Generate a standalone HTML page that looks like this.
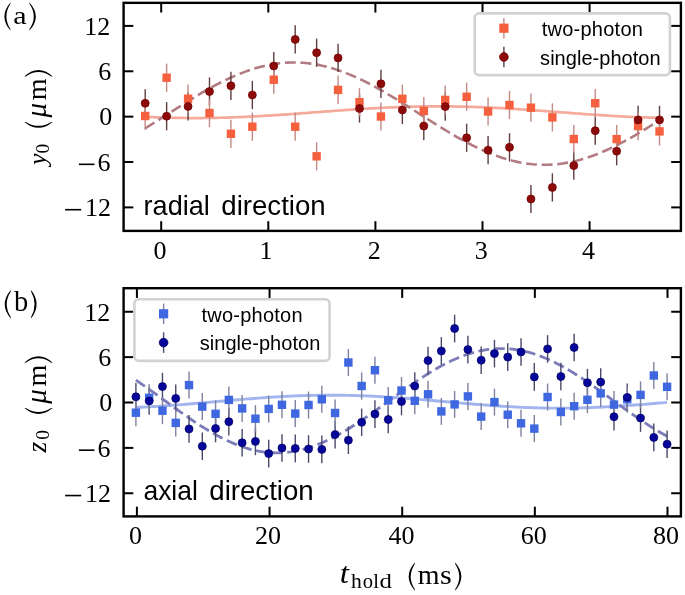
<!DOCTYPE html>
<html><head><meta charset="utf-8"><style>
html,body{margin:0;padding:0;background:#fff;width:685px;height:595px;overflow:hidden}
svg{display:block;will-change:transform}
.tl{font-family:"Liberation Serif",serif;font-size:26px;fill:#000}
.al{font-family:"Liberation Serif",serif;font-size:28px;fill:#000}

.sf{font-family:"Liberation Serif",serif;fill:#000}
.pl{font-family:"Liberation Serif",serif;font-size:29px;fill:#000}
.lg{font-family:"Liberation Sans",sans-serif;font-size:20px;fill:#000}
.ann{font-family:"Liberation Sans",sans-serif;font-size:27.1px;fill:#000}
</style></head><body>
<svg width="685" height="595" viewBox="0 0 685 595">
<rect width="685" height="595" fill="#fff"/>
<path d="M145.20,116.88 L147.78,117.00 L150.37,117.11 L152.95,117.21 L155.54,117.31 L158.12,117.40 L160.71,117.49 L163.29,117.57 L165.88,117.64 L168.46,117.71 L171.05,117.77 L173.63,117.83 L176.21,117.88 L178.80,117.92 L181.38,117.96 L183.97,117.99 L186.55,118.02 L189.14,118.03 L191.72,118.04 L194.31,118.05 L196.89,118.05 L199.47,118.04 L202.06,118.03 L204.64,118.00 L207.23,117.98 L209.81,117.94 L212.40,117.90 L214.98,117.85 L217.57,117.80 L220.15,117.74 L222.74,117.68 L225.32,117.60 L227.90,117.53 L230.49,117.44 L233.07,117.35 L235.66,117.26 L238.24,117.16 L240.83,117.05 L243.41,116.94 L246.00,116.82 L248.58,116.70 L251.17,116.57 L253.75,116.44 L256.33,116.30 L258.92,116.16 L261.50,116.01 L264.09,115.86 L266.67,115.71 L269.26,115.55 L271.84,115.39 L274.43,115.22 L277.01,115.05 L279.60,114.88 L282.18,114.71 L284.76,114.53 L287.35,114.35 L289.93,114.17 L292.52,113.98 L295.10,113.79 L297.69,113.60 L300.27,113.41 L302.86,113.22 L305.44,113.03 L308.02,112.83 L310.61,112.64 L313.19,112.44 L315.78,112.25 L318.36,112.05 L320.95,111.86 L323.53,111.66 L326.12,111.47 L328.70,111.28 L331.29,111.08 L333.87,110.89 L336.45,110.70 L339.04,110.51 L341.62,110.33 L344.21,110.14 L346.79,109.96 L349.38,109.78 L351.96,109.60 L354.55,109.43 L357.13,109.26 L359.72,109.09 L362.30,108.93 L364.88,108.77 L367.47,108.61 L370.05,108.46 L372.64,108.31 L375.22,108.17 L377.81,108.03 L380.39,107.89 L382.98,107.76 L385.56,107.64 L388.15,107.52 L390.73,107.40 L393.31,107.29 L395.90,107.19 L398.48,107.09 L401.07,107.00 L403.65,106.91 L406.24,106.83 L408.82,106.75 L411.41,106.68 L413.99,106.62 L416.57,106.56 L419.16,106.51 L421.74,106.47 L424.33,106.43 L426.91,106.40 L429.50,106.37 L432.08,106.36 L434.67,106.34 L437.25,106.34 L439.84,106.34 L442.42,106.35 L445.00,106.36 L447.59,106.38 L450.17,106.41 L452.76,106.44 L455.34,106.48 L457.93,106.53 L460.51,106.58 L463.10,106.64 L465.68,106.71 L468.27,106.78 L470.85,106.86 L473.43,106.94 L476.02,107.03 L478.60,107.12 L481.19,107.22 L483.77,107.33 L486.36,107.44 L488.94,107.56 L491.53,107.68 L494.11,107.81 L496.70,107.94 L499.28,108.08 L501.86,108.22 L504.45,108.36 L507.03,108.51 L509.62,108.67 L512.20,108.82 L514.79,108.99 L517.37,109.15 L519.96,109.32 L522.54,109.49 L525.12,109.67 L527.71,109.84 L530.29,110.03 L532.88,110.21 L535.46,110.39 L538.05,110.58 L540.63,110.77 L543.22,110.96 L545.80,111.15 L548.39,111.34 L550.97,111.54 L553.55,111.73 L556.14,111.93 L558.72,112.12 L561.31,112.32 L563.89,112.51 L566.48,112.71 L569.06,112.90 L571.65,113.10 L574.23,113.29 L576.82,113.48 L579.40,113.67 L581.98,113.86 L584.57,114.05 L587.15,114.23 L589.74,114.41 L592.32,114.59 L594.91,114.77 L597.49,114.94 L600.08,115.11 L602.66,115.28 L605.25,115.45 L607.83,115.61 L610.41,115.76 L613.00,115.92 L615.58,116.07 L618.17,116.21 L620.75,116.35 L623.34,116.49 L625.92,116.62 L628.51,116.74 L631.09,116.86 L633.67,116.98 L636.26,117.09 L638.84,117.19 L641.43,117.29 L644.01,117.39 L646.60,117.47 L649.18,117.55 L651.77,117.63 L654.35,117.70 L656.94,117.76 L659.52,117.82" fill="none" stroke="#f5aa9c" stroke-width="2.7"/>
<path d="M145.20,128.34 L147.78,126.75 L150.37,125.14 L152.95,123.52 L155.54,121.89 L158.12,120.25 L160.71,118.60 L163.29,116.95 L165.88,115.30 L168.46,113.64 L171.05,111.98 L173.63,110.33 L176.21,108.68 L178.80,107.03 L181.38,105.39 L183.97,103.76 L186.55,102.14 L189.14,100.53 L191.72,98.94 L194.31,97.36 L196.89,95.80 L199.47,94.25 L202.06,92.73 L204.64,91.23 L207.23,89.75 L209.81,88.30 L212.40,86.87 L214.98,85.48 L217.57,84.11 L220.15,82.77 L222.74,81.47 L225.32,80.19 L227.90,78.96 L230.49,77.76 L233.07,76.60 L235.66,75.47 L238.24,74.39 L240.83,73.35 L243.41,72.35 L246.00,71.39 L248.58,70.48 L251.17,69.61 L253.75,68.79 L256.33,68.02 L258.92,67.29 L261.50,66.62 L264.09,65.99 L266.67,65.41 L269.26,64.88 L271.84,64.41 L274.43,63.98 L277.01,63.61 L279.60,63.29 L282.18,63.03 L284.76,62.81 L287.35,62.65 L289.93,62.54 L292.52,62.49 L295.10,62.49 L297.69,62.54 L300.27,62.65 L302.86,62.81 L305.44,63.03 L308.02,63.29 L310.61,63.61 L313.19,63.99 L315.78,64.41 L318.36,64.89 L320.95,65.41 L323.53,65.99 L326.12,66.62 L328.70,67.30 L331.29,68.02 L333.87,68.80 L336.45,69.62 L339.04,70.48 L341.62,71.40 L344.21,72.35 L346.79,73.35 L349.38,74.40 L351.96,75.48 L354.55,76.60 L357.13,77.76 L359.72,78.96 L362.30,80.20 L364.88,81.47 L367.47,82.78 L370.05,84.11 L372.64,85.48 L375.22,86.88 L377.81,88.31 L380.39,89.76 L382.98,91.24 L385.56,92.74 L388.15,94.26 L390.73,95.80 L393.31,97.36 L395.90,98.94 L398.48,100.54 L401.07,102.15 L403.65,103.77 L406.24,105.40 L408.82,107.04 L411.41,108.68 L413.99,110.33 L416.57,111.99 L419.16,113.65 L421.74,115.30 L424.33,116.96 L426.91,118.61 L429.50,120.26 L432.08,121.89 L434.67,123.53 L437.25,125.15 L439.84,126.75 L442.42,128.35 L445.00,129.93 L447.59,131.49 L450.17,133.03 L452.76,134.56 L455.34,136.06 L457.93,137.53 L460.51,138.99 L463.10,140.41 L465.68,141.81 L468.27,143.18 L470.85,144.52 L473.43,145.82 L476.02,147.09 L478.60,148.33 L481.19,149.53 L483.77,150.69 L486.36,151.81 L488.94,152.90 L491.53,153.94 L494.11,154.94 L496.70,155.90 L499.28,156.81 L501.86,157.67 L504.45,158.50 L507.03,159.27 L509.62,160.00 L512.20,160.67 L514.79,161.30 L517.37,161.88 L519.96,162.41 L522.54,162.88 L525.12,163.31 L527.71,163.68 L530.29,164.00 L532.88,164.27 L535.46,164.48 L538.05,164.64 L540.63,164.75 L543.22,164.80 L545.80,164.80 L548.39,164.75 L550.97,164.64 L553.55,164.48 L556.14,164.27 L558.72,164.00 L561.31,163.68 L563.89,163.31 L566.48,162.88 L569.06,162.41 L571.65,161.88 L574.23,161.30 L576.82,160.68 L579.40,160.00 L581.98,159.27 L584.57,158.50 L587.15,157.68 L589.74,156.81 L592.32,155.90 L594.91,154.94 L597.49,153.95 L600.08,152.90 L602.66,151.82 L605.25,150.70 L607.83,149.54 L610.41,148.34 L613.00,147.10 L615.58,145.83 L618.17,144.52 L620.75,143.19 L623.34,141.82 L625.92,140.42 L628.51,139.00 L631.09,137.54 L633.67,136.07 L636.26,134.56 L638.84,133.04 L641.43,131.50 L644.01,129.94 L646.60,128.36 L649.18,126.76 L651.77,125.16 L654.35,123.54 L656.94,121.90 L659.52,120.27" fill="none" stroke="#b27c82" stroke-width="2.6" stroke-dasharray="10.9 4.7"/>
<line x1="145.20" y1="89.20" x2="145.20" y2="117.40" stroke="#5e3e3e" stroke-width="1.4"/>
<line x1="166.63" y1="102.10" x2="166.63" y2="130.30" stroke="#5e3e3e" stroke-width="1.4"/>
<line x1="188.06" y1="92.30" x2="188.06" y2="120.50" stroke="#5e3e3e" stroke-width="1.4"/>
<line x1="209.49" y1="77.40" x2="209.49" y2="105.60" stroke="#5e3e3e" stroke-width="1.4"/>
<line x1="230.92" y1="71.70" x2="230.92" y2="99.90" stroke="#5e3e3e" stroke-width="1.4"/>
<line x1="252.35" y1="80.90" x2="252.35" y2="109.10" stroke="#5e3e3e" stroke-width="1.4"/>
<line x1="273.78" y1="51.90" x2="273.78" y2="80.10" stroke="#5e3e3e" stroke-width="1.4"/>
<line x1="295.21" y1="25.30" x2="295.21" y2="53.50" stroke="#5e3e3e" stroke-width="1.4"/>
<line x1="316.64" y1="38.60" x2="316.64" y2="66.80" stroke="#5e3e3e" stroke-width="1.4"/>
<line x1="338.07" y1="43.80" x2="338.07" y2="72.00" stroke="#5e3e3e" stroke-width="1.4"/>
<line x1="359.50" y1="94.40" x2="359.50" y2="122.60" stroke="#5e3e3e" stroke-width="1.4"/>
<line x1="380.93" y1="69.70" x2="380.93" y2="97.90" stroke="#5e3e3e" stroke-width="1.4"/>
<line x1="402.36" y1="95.90" x2="402.36" y2="124.10" stroke="#5e3e3e" stroke-width="1.4"/>
<line x1="423.79" y1="112.00" x2="423.79" y2="140.20" stroke="#5e3e3e" stroke-width="1.4"/>
<line x1="445.22" y1="92.50" x2="445.22" y2="120.70" stroke="#5e3e3e" stroke-width="1.4"/>
<line x1="466.65" y1="123.70" x2="466.65" y2="151.90" stroke="#5e3e3e" stroke-width="1.4"/>
<line x1="488.08" y1="136.10" x2="488.08" y2="164.30" stroke="#5e3e3e" stroke-width="1.4"/>
<line x1="509.51" y1="133.20" x2="509.51" y2="161.40" stroke="#5e3e3e" stroke-width="1.4"/>
<line x1="530.94" y1="184.90" x2="530.94" y2="213.10" stroke="#5e3e3e" stroke-width="1.4"/>
<line x1="552.37" y1="173.30" x2="552.37" y2="201.50" stroke="#5e3e3e" stroke-width="1.4"/>
<line x1="573.80" y1="151.50" x2="573.80" y2="179.70" stroke="#5e3e3e" stroke-width="1.4"/>
<line x1="595.23" y1="116.60" x2="595.23" y2="144.80" stroke="#5e3e3e" stroke-width="1.4"/>
<line x1="616.66" y1="137.10" x2="616.66" y2="165.30" stroke="#5e3e3e" stroke-width="1.4"/>
<line x1="638.09" y1="105.80" x2="638.09" y2="134.00" stroke="#5e3e3e" stroke-width="1.4"/>
<line x1="659.52" y1="105.80" x2="659.52" y2="134.00" stroke="#5e3e3e" stroke-width="1.4"/>
<line x1="145.20" y1="101.90" x2="145.20" y2="130.10" stroke="#c48a84" stroke-width="1.4"/>
<line x1="166.63" y1="63.60" x2="166.63" y2="91.80" stroke="#c48a84" stroke-width="1.4"/>
<line x1="188.06" y1="84.60" x2="188.06" y2="112.80" stroke="#c48a84" stroke-width="1.4"/>
<line x1="209.49" y1="98.90" x2="209.49" y2="127.10" stroke="#c48a84" stroke-width="1.4"/>
<line x1="230.92" y1="119.70" x2="230.92" y2="147.90" stroke="#c48a84" stroke-width="1.4"/>
<line x1="252.35" y1="112.60" x2="252.35" y2="140.80" stroke="#c48a84" stroke-width="1.4"/>
<line x1="273.78" y1="65.60" x2="273.78" y2="93.80" stroke="#c48a84" stroke-width="1.4"/>
<line x1="295.21" y1="112.60" x2="295.21" y2="140.80" stroke="#c48a84" stroke-width="1.4"/>
<line x1="316.64" y1="142.20" x2="316.64" y2="170.40" stroke="#c48a84" stroke-width="1.4"/>
<line x1="338.07" y1="75.80" x2="338.07" y2="104.00" stroke="#c48a84" stroke-width="1.4"/>
<line x1="359.50" y1="88.10" x2="359.50" y2="116.30" stroke="#c48a84" stroke-width="1.4"/>
<line x1="380.93" y1="102.40" x2="380.93" y2="130.60" stroke="#c48a84" stroke-width="1.4"/>
<line x1="402.36" y1="84.70" x2="402.36" y2="112.90" stroke="#c48a84" stroke-width="1.4"/>
<line x1="423.79" y1="96.90" x2="423.79" y2="125.10" stroke="#c48a84" stroke-width="1.4"/>
<line x1="445.22" y1="85.80" x2="445.22" y2="114.00" stroke="#c48a84" stroke-width="1.4"/>
<line x1="466.65" y1="82.70" x2="466.65" y2="110.90" stroke="#c48a84" stroke-width="1.4"/>
<line x1="488.08" y1="97.40" x2="488.08" y2="125.60" stroke="#c48a84" stroke-width="1.4"/>
<line x1="509.51" y1="90.90" x2="509.51" y2="119.10" stroke="#c48a84" stroke-width="1.4"/>
<line x1="530.94" y1="93.60" x2="530.94" y2="121.80" stroke="#c48a84" stroke-width="1.4"/>
<line x1="552.37" y1="103.30" x2="552.37" y2="131.50" stroke="#c48a84" stroke-width="1.4"/>
<line x1="573.80" y1="124.90" x2="573.80" y2="153.10" stroke="#c48a84" stroke-width="1.4"/>
<line x1="595.23" y1="89.10" x2="595.23" y2="117.30" stroke="#c48a84" stroke-width="1.4"/>
<line x1="616.66" y1="125.00" x2="616.66" y2="153.20" stroke="#c48a84" stroke-width="1.4"/>
<line x1="638.09" y1="112.00" x2="638.09" y2="140.20" stroke="#c48a84" stroke-width="1.4"/>
<line x1="659.52" y1="117.30" x2="659.52" y2="145.50" stroke="#c48a84" stroke-width="1.4"/>
<rect x="141.00" y="111.80" width="8.4" height="8.4" fill="#f5603e"/>
<rect x="162.43" y="73.50" width="8.4" height="8.4" fill="#f5603e"/>
<rect x="183.86" y="94.50" width="8.4" height="8.4" fill="#f5603e"/>
<rect x="205.29" y="108.80" width="8.4" height="8.4" fill="#f5603e"/>
<rect x="226.72" y="129.60" width="8.4" height="8.4" fill="#f5603e"/>
<rect x="248.15" y="122.50" width="8.4" height="8.4" fill="#f5603e"/>
<rect x="269.58" y="75.50" width="8.4" height="8.4" fill="#f5603e"/>
<rect x="291.01" y="122.50" width="8.4" height="8.4" fill="#f5603e"/>
<rect x="312.44" y="152.10" width="8.4" height="8.4" fill="#f5603e"/>
<rect x="333.87" y="85.70" width="8.4" height="8.4" fill="#f5603e"/>
<rect x="355.30" y="98.00" width="8.4" height="8.4" fill="#f5603e"/>
<rect x="376.73" y="112.30" width="8.4" height="8.4" fill="#f5603e"/>
<rect x="398.16" y="94.60" width="8.4" height="8.4" fill="#f5603e"/>
<rect x="419.59" y="106.80" width="8.4" height="8.4" fill="#f5603e"/>
<rect x="441.02" y="95.70" width="8.4" height="8.4" fill="#f5603e"/>
<rect x="462.45" y="92.60" width="8.4" height="8.4" fill="#f5603e"/>
<rect x="483.88" y="107.30" width="8.4" height="8.4" fill="#f5603e"/>
<rect x="505.31" y="100.80" width="8.4" height="8.4" fill="#f5603e"/>
<rect x="526.74" y="103.50" width="8.4" height="8.4" fill="#f5603e"/>
<rect x="548.17" y="113.20" width="8.4" height="8.4" fill="#f5603e"/>
<rect x="569.60" y="134.80" width="8.4" height="8.4" fill="#f5603e"/>
<rect x="591.03" y="99.00" width="8.4" height="8.4" fill="#f5603e"/>
<rect x="612.46" y="134.90" width="8.4" height="8.4" fill="#f5603e"/>
<rect x="633.89" y="121.90" width="8.4" height="8.4" fill="#f5603e"/>
<rect x="655.32" y="127.20" width="8.4" height="8.4" fill="#f5603e"/>
<circle cx="145.20" cy="103.30" r="4.0" fill="#8c0a0a" stroke="#700000" stroke-width="0.7"/>
<circle cx="166.63" cy="116.20" r="4.0" fill="#8c0a0a" stroke="#700000" stroke-width="0.7"/>
<circle cx="188.06" cy="106.40" r="4.0" fill="#8c0a0a" stroke="#700000" stroke-width="0.7"/>
<circle cx="209.49" cy="91.50" r="4.0" fill="#8c0a0a" stroke="#700000" stroke-width="0.7"/>
<circle cx="230.92" cy="85.80" r="4.0" fill="#8c0a0a" stroke="#700000" stroke-width="0.7"/>
<circle cx="252.35" cy="95.00" r="4.0" fill="#8c0a0a" stroke="#700000" stroke-width="0.7"/>
<circle cx="273.78" cy="66.00" r="4.0" fill="#8c0a0a" stroke="#700000" stroke-width="0.7"/>
<circle cx="295.21" cy="39.40" r="4.0" fill="#8c0a0a" stroke="#700000" stroke-width="0.7"/>
<circle cx="316.64" cy="52.70" r="4.0" fill="#8c0a0a" stroke="#700000" stroke-width="0.7"/>
<circle cx="338.07" cy="57.90" r="4.0" fill="#8c0a0a" stroke="#700000" stroke-width="0.7"/>
<circle cx="359.50" cy="108.50" r="4.0" fill="#8c0a0a" stroke="#700000" stroke-width="0.7"/>
<circle cx="380.93" cy="83.80" r="4.0" fill="#8c0a0a" stroke="#700000" stroke-width="0.7"/>
<circle cx="402.36" cy="110.00" r="4.0" fill="#8c0a0a" stroke="#700000" stroke-width="0.7"/>
<circle cx="423.79" cy="126.10" r="4.0" fill="#8c0a0a" stroke="#700000" stroke-width="0.7"/>
<circle cx="445.22" cy="106.60" r="4.0" fill="#8c0a0a" stroke="#700000" stroke-width="0.7"/>
<circle cx="466.65" cy="137.80" r="4.0" fill="#8c0a0a" stroke="#700000" stroke-width="0.7"/>
<circle cx="488.08" cy="150.20" r="4.0" fill="#8c0a0a" stroke="#700000" stroke-width="0.7"/>
<circle cx="509.51" cy="147.30" r="4.0" fill="#8c0a0a" stroke="#700000" stroke-width="0.7"/>
<circle cx="530.94" cy="199.00" r="4.0" fill="#8c0a0a" stroke="#700000" stroke-width="0.7"/>
<circle cx="552.37" cy="187.40" r="4.0" fill="#8c0a0a" stroke="#700000" stroke-width="0.7"/>
<circle cx="573.80" cy="165.60" r="4.0" fill="#8c0a0a" stroke="#700000" stroke-width="0.7"/>
<circle cx="595.23" cy="130.70" r="4.0" fill="#8c0a0a" stroke="#700000" stroke-width="0.7"/>
<circle cx="616.66" cy="151.20" r="4.0" fill="#8c0a0a" stroke="#700000" stroke-width="0.7"/>
<circle cx="638.09" cy="119.90" r="4.0" fill="#8c0a0a" stroke="#700000" stroke-width="0.7"/>
<circle cx="659.52" cy="119.90" r="4.0" fill="#8c0a0a" stroke="#700000" stroke-width="0.7"/>
<line x1="161.20" y1="230.90" x2="161.20" y2="221.20" stroke="#000" stroke-width="2.0"/>
<line x1="161.20" y1="2.85" x2="161.20" y2="12.55" stroke="#000" stroke-width="2.0"/>
<line x1="268.30" y1="230.90" x2="268.30" y2="221.20" stroke="#000" stroke-width="2.0"/>
<line x1="268.30" y1="2.85" x2="268.30" y2="12.55" stroke="#000" stroke-width="2.0"/>
<line x1="375.40" y1="230.90" x2="375.40" y2="221.20" stroke="#000" stroke-width="2.0"/>
<line x1="375.40" y1="2.85" x2="375.40" y2="12.55" stroke="#000" stroke-width="2.0"/>
<line x1="482.50" y1="230.90" x2="482.50" y2="221.20" stroke="#000" stroke-width="2.0"/>
<line x1="482.50" y1="2.85" x2="482.50" y2="12.55" stroke="#000" stroke-width="2.0"/>
<line x1="589.60" y1="230.90" x2="589.60" y2="221.20" stroke="#000" stroke-width="2.0"/>
<line x1="589.60" y1="2.85" x2="589.60" y2="12.55" stroke="#000" stroke-width="2.0"/>
<line x1="123.60" y1="25.90" x2="133.30" y2="25.90" stroke="#000" stroke-width="2.0"/>
<line x1="680.90" y1="25.90" x2="671.20" y2="25.90" stroke="#000" stroke-width="2.0"/>
<line x1="123.60" y1="71.28" x2="133.30" y2="71.28" stroke="#000" stroke-width="2.0"/>
<line x1="680.90" y1="71.28" x2="671.20" y2="71.28" stroke="#000" stroke-width="2.0"/>
<line x1="123.60" y1="116.65" x2="133.30" y2="116.65" stroke="#000" stroke-width="2.0"/>
<line x1="680.90" y1="116.65" x2="671.20" y2="116.65" stroke="#000" stroke-width="2.0"/>
<line x1="123.60" y1="162.03" x2="133.30" y2="162.03" stroke="#000" stroke-width="2.0"/>
<line x1="680.90" y1="162.03" x2="671.20" y2="162.03" stroke="#000" stroke-width="2.0"/>
<line x1="123.60" y1="207.40" x2="133.30" y2="207.40" stroke="#000" stroke-width="2.0"/>
<line x1="680.90" y1="207.40" x2="671.20" y2="207.40" stroke="#000" stroke-width="2.0"/>
<rect x="123.60" y="2.85" width="557.30" height="228.05" fill="none" stroke="#000" stroke-width="2.4"/>
<text x="160.00" y="258.50" class="tl" text-anchor="middle">0</text>
<text x="265.90" y="258.50" class="tl" text-anchor="middle">1</text>
<text x="374.35" y="258.50" class="tl" text-anchor="middle">2</text>
<text x="481.25" y="258.50" class="tl" text-anchor="middle">3</text>
<text x="588.50" y="258.50" class="tl" text-anchor="middle">4</text>
<text x="110.30" y="34.70" class="tl" text-anchor="end">12</text>
<text x="111.30" y="80.08" class="tl" text-anchor="end">6</text>
<text x="112.20" y="125.45" class="tl" text-anchor="end">0</text>
<text x="110.60" y="170.83" class="tl" text-anchor="end">6</text>
<rect x="78.90" y="163.53" width="15.60" height="1.6" fill="#000"/>
<text x="110.90" y="216.20" class="tl" text-anchor="end">12</text>
<rect x="65.10" y="208.90" width="16.10" height="1.6" fill="#000"/>
<rect x="474.70" y="13.40" width="195.2" height="61.7" rx="4.5" fill="#fff" stroke="#d2d2d2" stroke-width="2.6"/>
<line x1="503.9" y1="17.90" x2="503.9" y2="38.50" stroke="#c48a84" stroke-width="1.4"/>
<rect x="499.30" y="23.60" width="9.2" height="9.2" fill="#f5603e"/>
<line x1="503.9" y1="46.70" x2="503.9" y2="67.30" stroke="#5e3e3e" stroke-width="1.4"/>
<circle cx="503.9" cy="57.00" r="4.4" fill="#8c0a0a" stroke="#700000" stroke-width="0.7"/>
<text x="541.70" y="36.10" class="lg" textLength="101.2" lengthAdjust="spacing">two-photon</text>
<text x="540.10" y="64.80" class="lg" textLength="120.5" lengthAdjust="spacing">single-photon</text>
<text x="143.6" y="214.6" class="ann" textLength="66.2" lengthAdjust="spacingAndGlyphs">radial</text>
<text x="221.3" y="214.6" class="ann" textLength="104.4" lengthAdjust="spacingAndGlyphs">direction</text>
<path d="M135.90,407.43 L138.57,407.32 L141.24,407.20 L143.91,407.07 L146.58,406.94 L149.25,406.80 L151.92,406.65 L154.59,406.49 L157.25,406.33 L159.92,406.17 L162.59,405.99 L165.26,405.81 L167.93,405.63 L170.60,405.44 L173.27,405.24 L175.94,405.04 L178.61,404.84 L181.28,404.63 L183.95,404.42 L186.62,404.20 L189.29,403.98 L191.96,403.76 L194.63,403.53 L197.29,403.31 L199.96,403.07 L202.63,402.84 L205.30,402.61 L207.97,402.37 L210.64,402.14 L213.31,401.90 L215.98,401.67 L218.65,401.43 L221.32,401.19 L223.99,400.96 L226.66,400.72 L229.33,400.49 L232.00,400.26 L234.67,400.03 L237.34,399.80 L240.00,399.57 L242.67,399.35 L245.34,399.13 L248.01,398.92 L250.68,398.70 L253.35,398.49 L256.02,398.29 L258.69,398.09 L261.36,397.90 L264.03,397.71 L266.70,397.52 L269.37,397.34 L272.04,397.17 L274.71,397.00 L277.38,396.84 L280.04,396.69 L282.71,396.54 L285.38,396.40 L288.05,396.26 L290.72,396.14 L293.39,396.02 L296.06,395.91 L298.73,395.80 L301.40,395.71 L304.07,395.62 L306.74,395.54 L309.41,395.47 L312.08,395.40 L314.75,395.35 L317.42,395.30 L320.08,395.26 L322.75,395.23 L325.42,395.21 L328.09,395.20 L330.76,395.20 L333.43,395.20 L336.10,395.21 L338.77,395.24 L341.44,395.27 L344.11,395.31 L346.78,395.35 L349.45,395.41 L352.12,395.48 L354.79,395.55 L357.46,395.63 L360.13,395.72 L362.79,395.82 L365.46,395.92 L368.13,396.03 L370.80,396.15 L373.47,396.28 L376.14,396.42 L378.81,396.56 L381.48,396.71 L384.15,396.86 L386.82,397.02 L389.49,397.19 L392.16,397.37 L394.83,397.54 L397.50,397.73 L400.17,397.92 L402.83,398.12 L405.50,398.32 L408.17,398.52 L410.84,398.73 L413.51,398.94 L416.18,399.16 L418.85,399.38 L421.52,399.60 L424.19,399.83 L426.86,400.06 L429.53,400.29 L432.20,400.52 L434.87,400.75 L437.54,400.99 L440.21,401.22 L442.87,401.46 L445.54,401.70 L448.21,401.93 L450.88,402.17 L453.55,402.40 L456.22,402.64 L458.89,402.87 L461.56,403.10 L464.23,403.33 L466.90,403.56 L469.57,403.79 L472.24,404.01 L474.91,404.23 L477.58,404.44 L480.25,404.66 L482.92,404.86 L485.58,405.07 L488.25,405.27 L490.92,405.46 L493.59,405.65 L496.26,405.84 L498.93,406.01 L501.60,406.19 L504.27,406.35 L506.94,406.51 L509.61,406.67 L512.28,406.82 L514.95,406.96 L517.62,407.09 L520.29,407.22 L522.96,407.34 L525.62,407.45 L528.29,407.55 L530.96,407.65 L533.63,407.73 L536.30,407.81 L538.97,407.88 L541.64,407.95 L544.31,408.00 L546.98,408.05 L549.65,408.09 L552.32,408.12 L554.99,408.14 L557.66,408.15 L560.33,408.15 L563.00,408.15 L565.66,408.13 L568.33,408.11 L571.00,408.08 L573.67,408.04 L576.34,407.99 L579.01,407.93 L581.68,407.87 L584.35,407.80 L587.02,407.71 L589.69,407.62 L592.36,407.53 L595.03,407.42 L597.70,407.31 L600.37,407.19 L603.04,407.06 L605.71,406.92 L608.37,406.78 L611.04,406.63 L613.71,406.48 L616.38,406.32 L619.05,406.15 L621.72,405.97 L624.39,405.79 L627.06,405.61 L629.73,405.42 L632.40,405.22 L635.07,405.02 L637.74,404.82 L640.41,404.61 L643.08,404.39 L645.75,404.18 L648.41,403.96 L651.08,403.73 L653.75,403.51 L656.42,403.28 L659.09,403.05 L661.76,402.82 L664.43,402.58 L667.10,402.35" fill="none" stroke="#a3b5ee" stroke-width="2.9"/>
<path d="M135.90,380.14 L138.57,381.95 L141.24,383.78 L143.91,385.63 L146.58,387.51 L149.25,389.40 L151.92,391.31 L154.59,393.23 L157.25,395.16 L159.92,397.10 L162.59,399.05 L165.26,401.00 L167.93,402.94 L170.60,404.89 L173.27,406.82 L175.94,408.75 L178.61,410.67 L181.28,412.58 L183.95,414.46 L186.62,416.33 L189.29,418.18 L191.96,420.00 L194.63,421.80 L197.29,423.56 L199.96,425.30 L202.63,427.00 L205.30,428.66 L207.97,430.28 L210.64,431.86 L213.31,433.40 L215.98,434.89 L218.65,436.34 L221.32,437.74 L223.99,439.08 L226.66,440.37 L229.33,441.60 L232.00,442.78 L234.67,443.90 L237.34,444.96 L240.00,445.95 L242.67,446.89 L245.34,447.76 L248.01,448.56 L250.68,449.30 L253.35,449.96 L256.02,450.56 L258.69,451.09 L261.36,451.55 L264.03,451.94 L266.70,452.26 L269.37,452.50 L272.04,452.67 L274.71,452.77 L277.38,452.80 L280.04,452.75 L282.71,452.64 L285.38,452.44 L288.05,452.18 L290.72,451.85 L293.39,451.44 L296.06,450.96 L298.73,450.41 L301.40,449.80 L304.07,449.11 L306.74,448.36 L309.41,447.54 L312.08,446.65 L314.75,445.70 L317.42,444.69 L320.08,443.61 L322.75,442.48 L325.42,441.29 L328.09,440.04 L330.76,438.73 L333.43,437.38 L336.10,435.97 L338.77,434.51 L341.44,433.00 L344.11,431.45 L346.78,429.86 L349.45,428.23 L352.12,426.56 L354.79,424.85 L357.46,423.10 L360.13,421.33 L362.79,419.53 L365.46,417.70 L368.13,415.85 L370.80,413.97 L373.47,412.08 L376.14,410.17 L378.81,408.25 L381.48,406.32 L384.15,404.38 L386.82,402.43 L389.49,400.49 L392.16,398.54 L394.83,396.60 L397.50,394.66 L400.17,392.73 L402.83,390.81 L405.50,388.90 L408.17,387.01 L410.84,385.15 L413.51,383.30 L416.18,381.47 L418.85,379.68 L421.52,377.91 L424.19,376.17 L426.86,374.47 L429.53,372.81 L432.20,371.18 L434.87,369.60 L437.54,368.06 L440.21,366.56 L442.87,365.11 L445.54,363.71 L448.21,362.37 L450.88,361.07 L453.55,359.84 L456.22,358.66 L458.89,357.53 L461.56,356.47 L464.23,355.47 L466.90,354.53 L469.57,353.66 L472.24,352.86 L474.91,352.12 L477.58,351.44 L480.25,350.84 L482.92,350.31 L485.58,349.84 L488.25,349.45 L490.92,349.13 L493.59,348.88 L496.26,348.70 L498.93,348.60 L501.60,348.57 L504.27,348.61 L506.94,348.73 L509.61,348.91 L512.28,349.17 L514.95,349.50 L517.62,349.91 L520.29,350.38 L522.96,350.92 L525.62,351.54 L528.29,352.22 L530.96,352.97 L533.63,353.78 L536.30,354.67 L538.97,355.61 L541.64,356.62 L544.31,357.69 L546.98,358.82 L549.65,360.01 L552.32,361.26 L554.99,362.56 L557.66,363.91 L560.33,365.32 L563.00,366.77 L565.66,368.28 L568.33,369.82 L571.00,371.41 L573.67,373.05 L576.34,374.72 L579.01,376.42 L581.68,378.16 L584.35,379.94 L587.02,381.74 L589.69,383.56 L592.36,385.41 L595.03,387.29 L597.70,389.18 L600.37,391.09 L603.04,393.01 L605.71,394.94 L608.37,396.88 L611.04,398.82 L613.71,400.77 L616.38,402.72 L619.05,404.66 L621.72,406.60 L624.39,408.53 L627.06,410.45 L629.73,412.36 L632.40,414.25 L635.07,416.12 L637.74,417.97 L640.41,419.79 L643.08,421.59 L645.75,423.36 L648.41,425.10 L651.08,426.80 L653.75,428.47 L656.42,430.09 L659.09,431.68 L661.76,433.23 L664.43,434.72 L667.10,436.17" fill="none" stroke="#7c7cba" stroke-width="2.8" stroke-dasharray="10.9 4.7"/>
<line x1="135.90" y1="383.00" x2="135.90" y2="410.60" stroke="#4a4a6a" stroke-width="1.4"/>
<line x1="149.18" y1="387.10" x2="149.18" y2="414.70" stroke="#4a4a6a" stroke-width="1.4"/>
<line x1="162.46" y1="372.80" x2="162.46" y2="400.40" stroke="#4a4a6a" stroke-width="1.4"/>
<line x1="175.74" y1="384.60" x2="175.74" y2="412.20" stroke="#4a4a6a" stroke-width="1.4"/>
<line x1="189.02" y1="415.10" x2="189.02" y2="442.70" stroke="#4a4a6a" stroke-width="1.4"/>
<line x1="202.30" y1="432.40" x2="202.30" y2="460.00" stroke="#4a4a6a" stroke-width="1.4"/>
<line x1="215.58" y1="414.70" x2="215.58" y2="442.30" stroke="#4a4a6a" stroke-width="1.4"/>
<line x1="228.86" y1="407.90" x2="228.86" y2="435.50" stroke="#4a4a6a" stroke-width="1.4"/>
<line x1="242.14" y1="429.00" x2="242.14" y2="456.60" stroke="#4a4a6a" stroke-width="1.4"/>
<line x1="255.42" y1="427.60" x2="255.42" y2="455.20" stroke="#4a4a6a" stroke-width="1.4"/>
<line x1="268.70" y1="439.80" x2="268.70" y2="467.40" stroke="#4a4a6a" stroke-width="1.4"/>
<line x1="281.98" y1="434.20" x2="281.98" y2="461.80" stroke="#4a4a6a" stroke-width="1.4"/>
<line x1="295.26" y1="434.60" x2="295.26" y2="462.20" stroke="#4a4a6a" stroke-width="1.4"/>
<line x1="308.54" y1="435.20" x2="308.54" y2="462.80" stroke="#4a4a6a" stroke-width="1.4"/>
<line x1="321.82" y1="435.60" x2="321.82" y2="463.20" stroke="#4a4a6a" stroke-width="1.4"/>
<line x1="335.10" y1="420.80" x2="335.10" y2="448.40" stroke="#4a4a6a" stroke-width="1.4"/>
<line x1="348.38" y1="426.40" x2="348.38" y2="454.00" stroke="#4a4a6a" stroke-width="1.4"/>
<line x1="361.66" y1="408.50" x2="361.66" y2="436.10" stroke="#4a4a6a" stroke-width="1.4"/>
<line x1="374.94" y1="400.30" x2="374.94" y2="427.90" stroke="#4a4a6a" stroke-width="1.4"/>
<line x1="388.22" y1="405.70" x2="388.22" y2="433.30" stroke="#4a4a6a" stroke-width="1.4"/>
<line x1="401.50" y1="387.70" x2="401.50" y2="415.30" stroke="#4a4a6a" stroke-width="1.4"/>
<line x1="414.78" y1="372.30" x2="414.78" y2="399.90" stroke="#4a4a6a" stroke-width="1.4"/>
<line x1="428.06" y1="346.80" x2="428.06" y2="374.40" stroke="#4a4a6a" stroke-width="1.4"/>
<line x1="441.34" y1="337.20" x2="441.34" y2="364.80" stroke="#4a4a6a" stroke-width="1.4"/>
<line x1="454.62" y1="314.70" x2="454.62" y2="342.30" stroke="#4a4a6a" stroke-width="1.4"/>
<line x1="467.90" y1="335.80" x2="467.90" y2="363.40" stroke="#4a4a6a" stroke-width="1.4"/>
<line x1="481.18" y1="346.40" x2="481.18" y2="374.00" stroke="#4a4a6a" stroke-width="1.4"/>
<line x1="494.46" y1="339.80" x2="494.46" y2="367.40" stroke="#4a4a6a" stroke-width="1.4"/>
<line x1="507.74" y1="343.30" x2="507.74" y2="370.90" stroke="#4a4a6a" stroke-width="1.4"/>
<line x1="521.02" y1="338.20" x2="521.02" y2="365.80" stroke="#4a4a6a" stroke-width="1.4"/>
<line x1="534.30" y1="363.10" x2="534.30" y2="390.70" stroke="#4a4a6a" stroke-width="1.4"/>
<line x1="547.58" y1="335.10" x2="547.58" y2="362.70" stroke="#4a4a6a" stroke-width="1.4"/>
<line x1="560.86" y1="362.70" x2="560.86" y2="390.30" stroke="#4a4a6a" stroke-width="1.4"/>
<line x1="574.14" y1="333.70" x2="574.14" y2="361.30" stroke="#4a4a6a" stroke-width="1.4"/>
<line x1="587.42" y1="368.90" x2="587.42" y2="396.50" stroke="#4a4a6a" stroke-width="1.4"/>
<line x1="600.70" y1="368.30" x2="600.70" y2="395.90" stroke="#4a4a6a" stroke-width="1.4"/>
<line x1="613.98" y1="402.90" x2="613.98" y2="430.50" stroke="#4a4a6a" stroke-width="1.4"/>
<line x1="627.26" y1="383.60" x2="627.26" y2="411.20" stroke="#4a4a6a" stroke-width="1.4"/>
<line x1="640.54" y1="404.30" x2="640.54" y2="431.90" stroke="#4a4a6a" stroke-width="1.4"/>
<line x1="653.82" y1="423.60" x2="653.82" y2="451.20" stroke="#4a4a6a" stroke-width="1.4"/>
<line x1="667.10" y1="430.40" x2="667.10" y2="458.00" stroke="#4a4a6a" stroke-width="1.4"/>
<line x1="135.90" y1="399.20" x2="135.90" y2="426.20" stroke="#7e82a0" stroke-width="1.4"/>
<line x1="149.18" y1="384.30" x2="149.18" y2="411.30" stroke="#7e82a0" stroke-width="1.4"/>
<line x1="162.46" y1="397.20" x2="162.46" y2="424.20" stroke="#7e82a0" stroke-width="1.4"/>
<line x1="175.74" y1="409.40" x2="175.74" y2="436.40" stroke="#7e82a0" stroke-width="1.4"/>
<line x1="189.02" y1="371.60" x2="189.02" y2="398.60" stroke="#7e82a0" stroke-width="1.4"/>
<line x1="202.30" y1="393.10" x2="202.30" y2="420.10" stroke="#7e82a0" stroke-width="1.4"/>
<line x1="215.58" y1="400.30" x2="215.58" y2="427.30" stroke="#7e82a0" stroke-width="1.4"/>
<line x1="228.86" y1="386.40" x2="228.86" y2="413.40" stroke="#7e82a0" stroke-width="1.4"/>
<line x1="242.14" y1="394.90" x2="242.14" y2="421.90" stroke="#7e82a0" stroke-width="1.4"/>
<line x1="255.42" y1="405.20" x2="255.42" y2="432.20" stroke="#7e82a0" stroke-width="1.4"/>
<line x1="268.70" y1="395.40" x2="268.70" y2="422.40" stroke="#7e82a0" stroke-width="1.4"/>
<line x1="281.98" y1="391.30" x2="281.98" y2="418.30" stroke="#7e82a0" stroke-width="1.4"/>
<line x1="295.26" y1="400.10" x2="295.26" y2="427.10" stroke="#7e82a0" stroke-width="1.4"/>
<line x1="308.54" y1="391.50" x2="308.54" y2="418.50" stroke="#7e82a0" stroke-width="1.4"/>
<line x1="321.82" y1="385.80" x2="321.82" y2="412.80" stroke="#7e82a0" stroke-width="1.4"/>
<line x1="335.10" y1="399.50" x2="335.10" y2="426.50" stroke="#7e82a0" stroke-width="1.4"/>
<line x1="348.38" y1="349.00" x2="348.38" y2="376.00" stroke="#7e82a0" stroke-width="1.4"/>
<line x1="361.66" y1="372.50" x2="361.66" y2="399.50" stroke="#7e82a0" stroke-width="1.4"/>
<line x1="374.94" y1="356.70" x2="374.94" y2="383.70" stroke="#7e82a0" stroke-width="1.4"/>
<line x1="388.22" y1="386.90" x2="388.22" y2="413.90" stroke="#7e82a0" stroke-width="1.4"/>
<line x1="401.50" y1="377.00" x2="401.50" y2="404.00" stroke="#7e82a0" stroke-width="1.4"/>
<line x1="414.78" y1="387.30" x2="414.78" y2="414.30" stroke="#7e82a0" stroke-width="1.4"/>
<line x1="428.06" y1="380.80" x2="428.06" y2="407.80" stroke="#7e82a0" stroke-width="1.4"/>
<line x1="441.34" y1="397.90" x2="441.34" y2="424.90" stroke="#7e82a0" stroke-width="1.4"/>
<line x1="454.62" y1="390.90" x2="454.62" y2="417.90" stroke="#7e82a0" stroke-width="1.4"/>
<line x1="467.90" y1="382.90" x2="467.90" y2="409.90" stroke="#7e82a0" stroke-width="1.4"/>
<line x1="481.18" y1="403.10" x2="481.18" y2="430.10" stroke="#7e82a0" stroke-width="1.4"/>
<line x1="494.46" y1="388.60" x2="494.46" y2="415.60" stroke="#7e82a0" stroke-width="1.4"/>
<line x1="507.74" y1="401.20" x2="507.74" y2="428.20" stroke="#7e82a0" stroke-width="1.4"/>
<line x1="521.02" y1="409.80" x2="521.02" y2="436.80" stroke="#7e82a0" stroke-width="1.4"/>
<line x1="534.30" y1="415.10" x2="534.30" y2="442.10" stroke="#7e82a0" stroke-width="1.4"/>
<line x1="547.58" y1="383.50" x2="547.58" y2="410.50" stroke="#7e82a0" stroke-width="1.4"/>
<line x1="560.86" y1="398.50" x2="560.86" y2="425.50" stroke="#7e82a0" stroke-width="1.4"/>
<line x1="574.14" y1="392.70" x2="574.14" y2="419.70" stroke="#7e82a0" stroke-width="1.4"/>
<line x1="587.42" y1="386.30" x2="587.42" y2="413.30" stroke="#7e82a0" stroke-width="1.4"/>
<line x1="600.70" y1="379.90" x2="600.70" y2="406.90" stroke="#7e82a0" stroke-width="1.4"/>
<line x1="613.98" y1="391.10" x2="613.98" y2="418.10" stroke="#7e82a0" stroke-width="1.4"/>
<line x1="627.26" y1="385.80" x2="627.26" y2="412.80" stroke="#7e82a0" stroke-width="1.4"/>
<line x1="640.54" y1="381.40" x2="640.54" y2="408.40" stroke="#7e82a0" stroke-width="1.4"/>
<line x1="653.82" y1="362.00" x2="653.82" y2="389.00" stroke="#7e82a0" stroke-width="1.4"/>
<line x1="667.10" y1="373.30" x2="667.10" y2="400.30" stroke="#7e82a0" stroke-width="1.4"/>
<rect x="131.70" y="408.50" width="8.4" height="8.4" fill="#3e67e0"/>
<rect x="144.98" y="393.60" width="8.4" height="8.4" fill="#3e67e0"/>
<rect x="158.26" y="406.50" width="8.4" height="8.4" fill="#3e67e0"/>
<rect x="171.54" y="418.70" width="8.4" height="8.4" fill="#3e67e0"/>
<rect x="184.82" y="380.90" width="8.4" height="8.4" fill="#3e67e0"/>
<rect x="198.10" y="402.40" width="8.4" height="8.4" fill="#3e67e0"/>
<rect x="211.38" y="409.60" width="8.4" height="8.4" fill="#3e67e0"/>
<rect x="224.66" y="395.70" width="8.4" height="8.4" fill="#3e67e0"/>
<rect x="237.94" y="404.20" width="8.4" height="8.4" fill="#3e67e0"/>
<rect x="251.22" y="414.50" width="8.4" height="8.4" fill="#3e67e0"/>
<rect x="264.50" y="404.70" width="8.4" height="8.4" fill="#3e67e0"/>
<rect x="277.78" y="400.60" width="8.4" height="8.4" fill="#3e67e0"/>
<rect x="291.06" y="409.40" width="8.4" height="8.4" fill="#3e67e0"/>
<rect x="304.34" y="400.80" width="8.4" height="8.4" fill="#3e67e0"/>
<rect x="317.62" y="395.10" width="8.4" height="8.4" fill="#3e67e0"/>
<rect x="330.90" y="408.80" width="8.4" height="8.4" fill="#3e67e0"/>
<rect x="344.18" y="358.30" width="8.4" height="8.4" fill="#3e67e0"/>
<rect x="357.46" y="381.80" width="8.4" height="8.4" fill="#3e67e0"/>
<rect x="370.74" y="366.00" width="8.4" height="8.4" fill="#3e67e0"/>
<rect x="384.02" y="396.20" width="8.4" height="8.4" fill="#3e67e0"/>
<rect x="397.30" y="386.30" width="8.4" height="8.4" fill="#3e67e0"/>
<rect x="410.58" y="396.60" width="8.4" height="8.4" fill="#3e67e0"/>
<rect x="423.86" y="390.10" width="8.4" height="8.4" fill="#3e67e0"/>
<rect x="437.14" y="407.20" width="8.4" height="8.4" fill="#3e67e0"/>
<rect x="450.42" y="400.20" width="8.4" height="8.4" fill="#3e67e0"/>
<rect x="463.70" y="392.20" width="8.4" height="8.4" fill="#3e67e0"/>
<rect x="476.98" y="412.40" width="8.4" height="8.4" fill="#3e67e0"/>
<rect x="490.26" y="397.90" width="8.4" height="8.4" fill="#3e67e0"/>
<rect x="503.54" y="410.50" width="8.4" height="8.4" fill="#3e67e0"/>
<rect x="516.82" y="419.10" width="8.4" height="8.4" fill="#3e67e0"/>
<rect x="530.10" y="424.40" width="8.4" height="8.4" fill="#3e67e0"/>
<rect x="543.38" y="392.80" width="8.4" height="8.4" fill="#3e67e0"/>
<rect x="556.66" y="407.80" width="8.4" height="8.4" fill="#3e67e0"/>
<rect x="569.94" y="402.00" width="8.4" height="8.4" fill="#3e67e0"/>
<rect x="583.22" y="395.60" width="8.4" height="8.4" fill="#3e67e0"/>
<rect x="596.50" y="389.20" width="8.4" height="8.4" fill="#3e67e0"/>
<rect x="609.78" y="400.40" width="8.4" height="8.4" fill="#3e67e0"/>
<rect x="623.06" y="395.10" width="8.4" height="8.4" fill="#3e67e0"/>
<rect x="636.34" y="390.70" width="8.4" height="8.4" fill="#3e67e0"/>
<rect x="649.62" y="371.30" width="8.4" height="8.4" fill="#3e67e0"/>
<rect x="662.90" y="382.60" width="8.4" height="8.4" fill="#3e67e0"/>
<circle cx="135.90" cy="396.80" r="4.0" fill="#06069a" stroke="#000060" stroke-width="0.7"/>
<circle cx="149.18" cy="400.90" r="4.0" fill="#06069a" stroke="#000060" stroke-width="0.7"/>
<circle cx="162.46" cy="386.60" r="4.0" fill="#06069a" stroke="#000060" stroke-width="0.7"/>
<circle cx="175.74" cy="398.40" r="4.0" fill="#06069a" stroke="#000060" stroke-width="0.7"/>
<circle cx="189.02" cy="428.90" r="4.0" fill="#06069a" stroke="#000060" stroke-width="0.7"/>
<circle cx="202.30" cy="446.20" r="4.0" fill="#06069a" stroke="#000060" stroke-width="0.7"/>
<circle cx="215.58" cy="428.50" r="4.0" fill="#06069a" stroke="#000060" stroke-width="0.7"/>
<circle cx="228.86" cy="421.70" r="4.0" fill="#06069a" stroke="#000060" stroke-width="0.7"/>
<circle cx="242.14" cy="442.80" r="4.0" fill="#06069a" stroke="#000060" stroke-width="0.7"/>
<circle cx="255.42" cy="441.40" r="4.0" fill="#06069a" stroke="#000060" stroke-width="0.7"/>
<circle cx="268.70" cy="453.60" r="4.0" fill="#06069a" stroke="#000060" stroke-width="0.7"/>
<circle cx="281.98" cy="448.00" r="4.0" fill="#06069a" stroke="#000060" stroke-width="0.7"/>
<circle cx="295.26" cy="448.40" r="4.0" fill="#06069a" stroke="#000060" stroke-width="0.7"/>
<circle cx="308.54" cy="449.00" r="4.0" fill="#06069a" stroke="#000060" stroke-width="0.7"/>
<circle cx="321.82" cy="449.40" r="4.0" fill="#06069a" stroke="#000060" stroke-width="0.7"/>
<circle cx="335.10" cy="434.60" r="4.0" fill="#06069a" stroke="#000060" stroke-width="0.7"/>
<circle cx="348.38" cy="440.20" r="4.0" fill="#06069a" stroke="#000060" stroke-width="0.7"/>
<circle cx="361.66" cy="422.30" r="4.0" fill="#06069a" stroke="#000060" stroke-width="0.7"/>
<circle cx="374.94" cy="414.10" r="4.0" fill="#06069a" stroke="#000060" stroke-width="0.7"/>
<circle cx="388.22" cy="419.50" r="4.0" fill="#06069a" stroke="#000060" stroke-width="0.7"/>
<circle cx="401.50" cy="401.50" r="4.0" fill="#06069a" stroke="#000060" stroke-width="0.7"/>
<circle cx="414.78" cy="386.10" r="4.0" fill="#06069a" stroke="#000060" stroke-width="0.7"/>
<circle cx="428.06" cy="360.60" r="4.0" fill="#06069a" stroke="#000060" stroke-width="0.7"/>
<circle cx="441.34" cy="351.00" r="4.0" fill="#06069a" stroke="#000060" stroke-width="0.7"/>
<circle cx="454.62" cy="328.50" r="4.0" fill="#06069a" stroke="#000060" stroke-width="0.7"/>
<circle cx="467.90" cy="349.60" r="4.0" fill="#06069a" stroke="#000060" stroke-width="0.7"/>
<circle cx="481.18" cy="360.20" r="4.0" fill="#06069a" stroke="#000060" stroke-width="0.7"/>
<circle cx="494.46" cy="353.60" r="4.0" fill="#06069a" stroke="#000060" stroke-width="0.7"/>
<circle cx="507.74" cy="357.10" r="4.0" fill="#06069a" stroke="#000060" stroke-width="0.7"/>
<circle cx="521.02" cy="352.00" r="4.0" fill="#06069a" stroke="#000060" stroke-width="0.7"/>
<circle cx="534.30" cy="376.90" r="4.0" fill="#06069a" stroke="#000060" stroke-width="0.7"/>
<circle cx="547.58" cy="348.90" r="4.0" fill="#06069a" stroke="#000060" stroke-width="0.7"/>
<circle cx="560.86" cy="376.50" r="4.0" fill="#06069a" stroke="#000060" stroke-width="0.7"/>
<circle cx="574.14" cy="347.50" r="4.0" fill="#06069a" stroke="#000060" stroke-width="0.7"/>
<circle cx="587.42" cy="382.70" r="4.0" fill="#06069a" stroke="#000060" stroke-width="0.7"/>
<circle cx="600.70" cy="382.10" r="4.0" fill="#06069a" stroke="#000060" stroke-width="0.7"/>
<circle cx="613.98" cy="416.70" r="4.0" fill="#06069a" stroke="#000060" stroke-width="0.7"/>
<circle cx="627.26" cy="397.40" r="4.0" fill="#06069a" stroke="#000060" stroke-width="0.7"/>
<circle cx="640.54" cy="418.10" r="4.0" fill="#06069a" stroke="#000060" stroke-width="0.7"/>
<circle cx="653.82" cy="437.40" r="4.0" fill="#06069a" stroke="#000060" stroke-width="0.7"/>
<circle cx="667.10" cy="444.20" r="4.0" fill="#06069a" stroke="#000060" stroke-width="0.7"/>
<line x1="136.90" y1="516.40" x2="136.90" y2="506.70" stroke="#000" stroke-width="2.0"/>
<line x1="136.90" y1="288.20" x2="136.90" y2="297.90" stroke="#000" stroke-width="2.0"/>
<line x1="269.55" y1="516.40" x2="269.55" y2="506.70" stroke="#000" stroke-width="2.0"/>
<line x1="269.55" y1="288.20" x2="269.55" y2="297.90" stroke="#000" stroke-width="2.0"/>
<line x1="402.20" y1="516.40" x2="402.20" y2="506.70" stroke="#000" stroke-width="2.0"/>
<line x1="402.20" y1="288.20" x2="402.20" y2="297.90" stroke="#000" stroke-width="2.0"/>
<line x1="534.85" y1="516.40" x2="534.85" y2="506.70" stroke="#000" stroke-width="2.0"/>
<line x1="534.85" y1="288.20" x2="534.85" y2="297.90" stroke="#000" stroke-width="2.0"/>
<line x1="667.50" y1="516.40" x2="667.50" y2="506.70" stroke="#000" stroke-width="2.0"/>
<line x1="667.50" y1="288.20" x2="667.50" y2="297.90" stroke="#000" stroke-width="2.0"/>
<line x1="123.60" y1="311.75" x2="133.30" y2="311.75" stroke="#000" stroke-width="2.0"/>
<line x1="680.90" y1="311.75" x2="671.20" y2="311.75" stroke="#000" stroke-width="2.0"/>
<line x1="123.60" y1="357.12" x2="133.30" y2="357.12" stroke="#000" stroke-width="2.0"/>
<line x1="680.90" y1="357.12" x2="671.20" y2="357.12" stroke="#000" stroke-width="2.0"/>
<line x1="123.60" y1="402.50" x2="133.30" y2="402.50" stroke="#000" stroke-width="2.0"/>
<line x1="680.90" y1="402.50" x2="671.20" y2="402.50" stroke="#000" stroke-width="2.0"/>
<line x1="123.60" y1="447.88" x2="133.30" y2="447.88" stroke="#000" stroke-width="2.0"/>
<line x1="680.90" y1="447.88" x2="671.20" y2="447.88" stroke="#000" stroke-width="2.0"/>
<line x1="123.60" y1="493.25" x2="133.30" y2="493.25" stroke="#000" stroke-width="2.0"/>
<line x1="680.90" y1="493.25" x2="671.20" y2="493.25" stroke="#000" stroke-width="2.0"/>
<rect x="123.60" y="288.20" width="557.30" height="228.20" fill="none" stroke="#000" stroke-width="2.4"/>
<text x="135.50" y="544.00" class="tl" text-anchor="middle">0</text>
<text x="268.05" y="544.00" class="tl" text-anchor="middle">20</text>
<text x="401.40" y="544.00" class="tl" text-anchor="middle">40</text>
<text x="533.70" y="544.00" class="tl" text-anchor="middle">60</text>
<text x="666.00" y="544.00" class="tl" text-anchor="middle">80</text>
<text x="110.30" y="320.55" class="tl" text-anchor="end">12</text>
<text x="111.30" y="365.93" class="tl" text-anchor="end">6</text>
<text x="112.20" y="411.30" class="tl" text-anchor="end">0</text>
<text x="110.60" y="456.68" class="tl" text-anchor="end">6</text>
<rect x="78.90" y="449.38" width="15.60" height="1.6" fill="#000"/>
<text x="110.90" y="502.05" class="tl" text-anchor="end">12</text>
<rect x="65.10" y="494.75" width="16.10" height="1.6" fill="#000"/>
<rect x="134.40" y="299.20" width="195.2" height="61.7" rx="4.5" fill="#fff" stroke="#d2d2d2" stroke-width="2.6"/>
<line x1="163.6" y1="303.50" x2="163.6" y2="324.10" stroke="#7e82a0" stroke-width="1.4"/>
<rect x="159.00" y="309.20" width="9.2" height="9.2" fill="#3e67e0"/>
<line x1="163.6" y1="332.30" x2="163.6" y2="352.90" stroke="#4a4a6a" stroke-width="1.4"/>
<circle cx="163.6" cy="342.60" r="4.4" fill="#06069a" stroke="#000060" stroke-width="0.7"/>
<text x="201.40" y="321.70" class="lg" textLength="101.2" lengthAdjust="spacing">two-photon</text>
<text x="199.80" y="350.40" class="lg" textLength="120.5" lengthAdjust="spacing">single-photon</text>
<text x="143.4" y="499.8" class="ann" textLength="54.5" lengthAdjust="spacingAndGlyphs">axial</text>
<text x="209.3" y="499.8" class="ann" textLength="104.4" lengthAdjust="spacingAndGlyphs">direction</text>
<text transform="translate(13.20,23.60) scale(1.18,1)" font-size="25.5" class="sf">a</text>
<text x="14.10" y="311.10" font-size="28.5" class="sf">b</text>
<g transform="translate(0,0.00) rotate(-90)">
<text x="-164.90" y="45.50" font-size="26" font-style="italic" class="sf">y</text>
<text x="-153.60" y="48.60" font-size="19.5" class="sf">0</text>
<text x="-117.60" y="45.50" font-size="29" font-style="italic" class="sf">μ</text>
<text x="-100.30" y="45.50" font-size="28" class="sf">m</text>
</g>
<g transform="translate(0,286.20) rotate(-90)">
<text x="-166.20" y="45.50" font-size="27.5" font-style="italic" class="sf">z</text>
<text x="-153.60" y="48.60" font-size="19.5" class="sf">0</text>
<text x="-117.60" y="45.50" font-size="29" font-style="italic" class="sf">μ</text>
<text x="-100.30" y="45.50" font-size="28" class="sf">m</text>
</g>
<path d="M10.40,2.40 Q-1.60,16.50 10.40,30.60 L10.40,29.20 Q2.40,16.50 10.40,3.80 Z" fill="#000"/>
<path d="M29.40,2.40 Q42.20,16.50 29.40,30.60 L29.40,29.20 Q38.20,16.50 29.40,3.80 Z" fill="#000"/>
<path d="M10.80,290.00 Q-1.40,304.25 10.80,318.50 L10.80,317.10 Q2.60,304.25 10.80,291.40 Z" fill="#000"/>
<path d="M31.10,290.00 Q42.10,304.25 31.10,318.50 L31.10,317.10 Q38.10,304.25 31.10,291.40 Z" fill="#000"/>
<path d="M24.40,121.90 Q38.50,133.70 52.60,121.90 L51.20,121.90 Q38.50,129.70 25.80,121.90 Z" fill="#000"/>
<path d="M24.40,76.50 Q38.50,63.70 52.60,76.50 L51.20,76.50 Q38.50,67.70 25.80,76.50 Z" fill="#000"/>
<path d="M24.40,408.10 Q38.50,419.90 52.60,408.10 L51.20,408.10 Q38.50,415.90 25.80,408.10 Z" fill="#000"/>
<path d="M24.40,362.70 Q38.50,349.90 52.60,362.70 L51.20,362.70 Q38.50,353.90 25.80,362.70 Z" fill="#000"/>
<path d="M414.80,562.60 Q402.60,576.65 414.80,590.70 L414.80,589.30 Q406.60,576.65 414.80,564.00 Z" fill="#000"/>
<path d="M455.20,562.60 Q467.40,576.65 455.20,590.70 L455.20,589.30 Q463.40,576.65 455.20,564.00 Z" fill="#000"/>
<text transform="translate(339.68,583.30) scale(1.12,1)" font-size="29.5" font-style="italic" class="sf">t</text>
<text transform="translate(350.98,587.90) scale(1.05,1)" font-size="20.6" class="sf">h</text>
<text x="362.68" y="587.90" font-size="20.6" class="sf">o</text>
<text x="373.19" y="587.90" font-size="20.6" class="sf">l</text>
<text transform="translate(379.61,587.90) scale(1.2,1)" font-size="20.6" class="sf">d</text>
<text x="417.84" y="583.50" font-size="28" class="sf">m</text>
<text transform="translate(440.09,583.50) scale(1.08,1)" font-size="28" class="sf">s</text>
</svg>
</body></html>
